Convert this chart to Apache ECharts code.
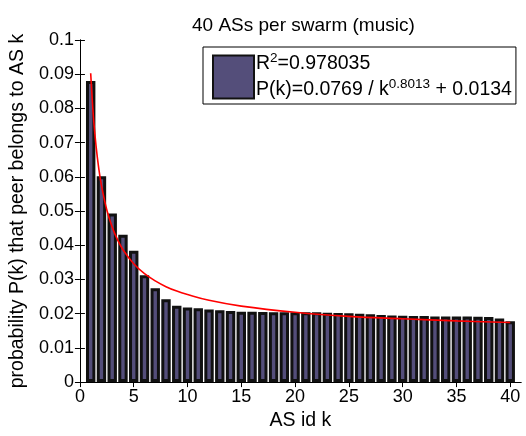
<!DOCTYPE html>
<html>
<head>
<meta charset="utf-8">
<script src="https://cdn.jsdelivr.net/npm/echarts@6/dist/echarts.min.js"></script>
<style>
html,body{margin:0;padding:0;background:#fff;}
#chart{width:526px;height:436px;}
</style>
</head>
<body>
<div id="chart"></div>
<script>
// AS ids (categories)
var asIds = [1,2,3,4,5,6,7,8,9,10,11,12,13,14,15,16,17,18,19,20,21,22,23,24,25,26,27,28,29,30,31,32,33,34,35,36,37,38,39,40];
// measured probabilities P(k)
var probValues = [0.0880,0.0602,0.0493,0.0431,0.0384,0.0312,0.0274,0.0242,0.0223,0.0218,
  0.0216,0.0212,0.0210,0.0208,0.0206,0.0206,0.0205,0.0204,0.0204,0.0204,
  0.0204,0.0204,0.0203,0.0202,0.0201,0.0200,0.0198,0.0196,0.0195,0.0194,
  0.0193,0.0193,0.0192,0.0192,0.0192,0.0192,0.0191,0.0190,0.0186,0.0178];
// fitted curve
var fitK = [1,1.25,1.5,1.75,2,2.5,3,3.5,4,5,6,7,8,9,10,12,15,20,25,30,35,40];
var fitP = [0.0903,0.0777,0.0690,0.0625,0.0575,0.0503,0.0453,0.0416,0.0387,0.0346,0.0317,0.0296,0.0279,0.0266,0.0256,0.0239,0.0222,0.0204,0.0192,0.0185,0.0179,0.0174];
var xTicks = [0,5,10,15,20,25,30,35,40];
var yTicks = [0,0.01,0.02,0.03,0.04,0.05,0.06,0.07,0.08,0.09,0.1];

var FONT = 'Liberation Sans, Arial, sans-serif';
var barData = asIds.map(function(k,i){return [k, probValues[i]];});
var fitData = fitK.map(function(k,i){return [k, fitP[i]];});

var chart = echarts.init(document.getElementById('chart'), null, {renderer:'canvas'});
chart.setOption({
  animation:false,
  backgroundColor:'#fff',
  title:{text:'40 ASs per swarm (music)',left:187,top:11,
    textStyle:{fontFamily:FONT,fontSize:19,fontWeight:'normal',color:'#000'}},
  grid:{left:78,right:5,top:40,bottom:45,containLabel:false},
  legend:{
    data:['bars'],
    left:203,top:47,
    orient:'vertical',
    padding:[4,4,4,9],
    borderColor:'#000',borderWidth:1,backgroundColor:'#fff',
    itemWidth:41,itemHeight:43,itemGap:0,
    icon:'rect',
    formatter:function(){
      return '{n|R}{s|2}{n|=0.978035}\n{n|P(k)=0.0769 / k}{s|0.8013}{n| + 0.0134}';
    },
    textStyle:{fontFamily:FONT,color:'#000',padding:[0,0,0,-3],
      rich:{
        n:{fontFamily:FONT,fontSize:19.5,lineHeight:26,color:'#000'},
        s:{fontFamily:FONT,fontSize:13.5,lineHeight:14,verticalAlign:'top',color:'#000'}
      }}
  },
  xAxis:[
    {type:'value',min:0,max:41,interval:5,position:'bottom',
      name:'AS id k',nameLocation:'middle',nameGap:25,
      nameTextStyle:{fontFamily:FONT,fontSize:19.5,color:'#000'},
      axisLine:{show:true,lineStyle:{color:'#000',width:1}},
      axisLabel:{fontFamily:FONT,fontSize:18,color:'#000',margin:6,customValues:xTicks},
      axisTick:{show:true,inside:true,length:5,lineStyle:{color:'#000'},customValues:xTicks},
      splitLine:{show:false}},
    {type:'value',min:0,max:41,interval:5,position:'top',
      axisLine:{show:true,lineStyle:{color:'#000'}},
      axisTick:{show:true,inside:true,length:5,lineStyle:{color:'#000'},customValues:xTicks},
      axisLabel:{show:false},splitLine:{show:false}}
  ],
  yAxis:[
    {type:'value',min:0,max:0.1,interval:0.01,position:'left',
      name:'probability P(k) that peer belongs to AS k',nameLocation:'middle',nameGap:50,
      nameTextStyle:{fontFamily:FONT,fontSize:19.5,color:'#000'},
      axisLine:{show:true,lineStyle:{color:'#000'}},
      axisTick:{show:true,inside:true,length:5,lineStyle:{color:'#000'}},
      axisLabel:{fontFamily:FONT,fontSize:18,color:'#000',margin:6,
        formatter:function(v){return String(+v.toFixed(2));}},
      splitLine:{show:false}},
    {type:'value',min:0,max:0.1,interval:0.01,position:'right',
      axisLine:{show:true,lineStyle:{color:'#000'}},
      axisTick:{show:true,inside:true,length:5,lineStyle:{color:'#000'}},
      axisLabel:{show:false},splitLine:{show:false}}
  ],
  series:[
    {name:'bars',type:'bar',xAxisIndex:0,yAxisIndex:0,data:barData,barWidth:9.4,
      itemStyle:{color:'#544E7A',borderColor:'#111',borderWidth:3}},
    {name:'fit',type:'line',xAxisIndex:0,yAxisIndex:0,data:fitData,smooth:0.4,showSymbol:false,
      lineStyle:{color:'#FF0000',width:1.6},z:5}
  ]
});
</script>
</body>
</html>
